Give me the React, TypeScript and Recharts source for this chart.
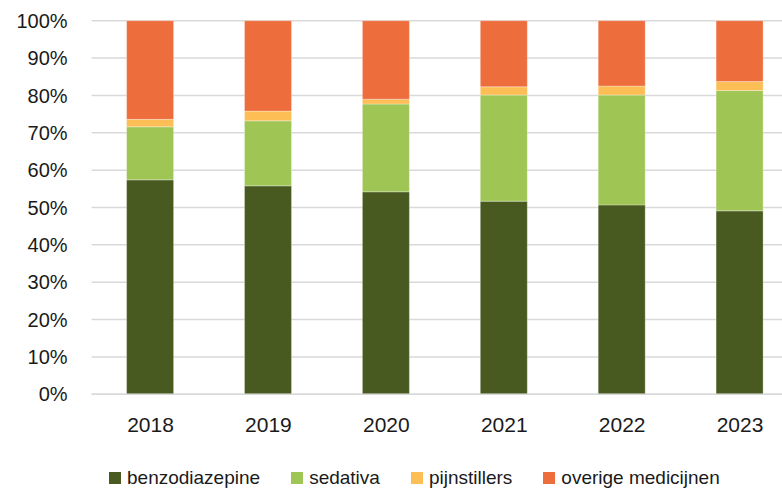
import React from "react";
import { BarChart, Bar, XAxis, YAxis, CartesianGrid } from "recharts";

const years = ["2018", "2019", "2020", "2021", "2022", "2023"];
const benzodiazepine = [57.4, 55.8, 54.2, 51.7, 50.7, 49.1];
const sedativa = [14.2, 17.4, 23.5, 28.4, 29.4, 32.2];
const pijnstillers = [2.0, 2.6, 1.3, 2.2, 2.4, 2.4];
const overige = [26.4, 24.2, 21.0, 17.7, 17.5, 16.3];
const yTicks = [0, 0.1, 0.2, 0.3, 0.4, 0.5, 0.6, 0.7, 0.8, 0.9, 1];

const series = [
  { key: "benzodiazepine", name: "benzodiazepine", color: "#485A1F", values: benzodiazepine },
  { key: "sedativa", name: "sedativa", color: "#9FC554", values: sedativa },
  { key: "pijnstillers", name: "pijnstillers", color: "#FCBE55", values: pijnstillers },
  { key: "overige", name: "overige medicijnen", color: "#EE6D3D", values: overige },
];

const data = years.map((y, i) => {
  const row: Record<string, string | number> = { year: y };
  series.forEach((s) => {
    row[s.key] = s.values[i];
  });
  return row;
});

const FONT = "'Liberation Sans', Arial, sans-serif";

export default function App() {
  return (
    <div
      style={{
        position: "absolute",
        left: 0,
        top: 0,
        width: 782,
        height: 488,
        overflow: "hidden",
        background: "#fff",
        fontFamily: FONT,
      }}
    >
      <BarChart
        width={799}
        height={488}
        data={data}
        stackOffset="expand"
        margin={{ top: 20.7, right: 0, bottom: 63.7, left: 0 }}
      >
        <CartesianGrid vertical={false} stroke="#d9d9d9" strokeWidth={1.5} />
        <XAxis
          dataKey="year"
          height={30}
          tickSize={0}
          tickMargin={23}
          axisLine={{ stroke: "#d9d9d9", strokeWidth: 1.5 }}
          tick={{ fill: "#1a1a1a", fontSize: 21, fontFamily: FONT }}
        />
        <YAxis
          width={91.6}
          domain={[0, 1]}
          ticks={yTicks}
          interval={0}
          axisLine={false}
          tickSize={0}
          tickMargin={24}
          tickFormatter={(v: number) => `${Math.round(v * 100)}%`}
          tick={{ fill: "#1a1a1a", fontSize: 20, fontFamily: FONT }}
        />
        {series.map((s) => (
          <Bar
            key={s.key}
            dataKey={s.key}
            name={s.name}
            stackId="a"
            fill={s.color}
            barSize={47}
            stroke="#ffffff"
            strokeOpacity={0.3}
            strokeWidth={1}
            isAnimationActive={false}
          />
        ))}
      </BarChart>
      <div
        style={{
          position: "absolute",
          left: 109,
          top: 467,
          display: "flex",
          alignItems: "center",
          fontSize: 19,
          color: "#1a1a1a",
          fontFamily: FONT,
          whiteSpace: "nowrap",
        }}
      >
        {series.map((s, i) => (
          <div key={s.key} style={{ display: "flex", alignItems: "center", marginLeft: i === 0 ? 0 : 31 }}>
            <div style={{ width: 12, height: 12, background: s.color, marginRight: 6 }} />
            <span>{s.name}</span>
          </div>
        ))}
      </div>
    </div>
  );
}
